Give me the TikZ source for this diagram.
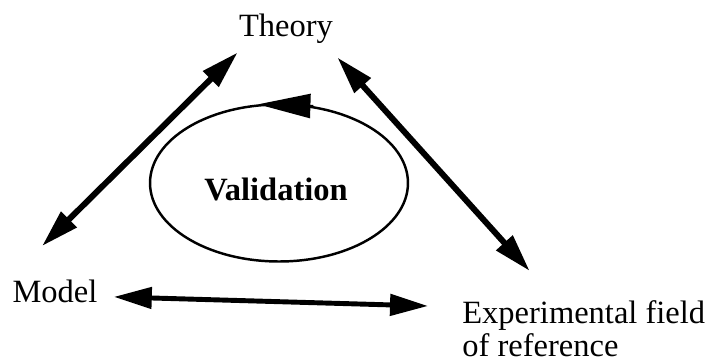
\documentclass[tikz,border=0pt]{standalone}
\usepackage{fontspec}
\setmainfont{Liberation Serif}
\usetikzlibrary{arrows.meta,shapes.geometric}

\begin{document}
\begin{tikzpicture}[x=0.02cm, y=-0.02cm,
    lbl/.style={font=\fontsize{18.5}{19}\selectfont, inner sep=0pt},
    dbl/.style={line width=3.4pt, {Triangle[length=0.76cm,width=0.42cm]}-{Triangle[length=0.76cm,width=0.42cm]}},
    loopline/.style={draw, ellipse, line width=1.4pt, minimum width=5.16cm, minimum height=3.14cm}]
    \useasboundingbox (0, 0) rectangle (715, 362);
    \node[lbl, anchor=base] (theory) at (286, 36) {Theory};
    \node[lbl, anchor=base] (model) at (55, 302) {Model};
    \node[lbl, anchor=north west, align=left] (field) at (462, 300) {Experimental field\\of reference};
    \node[loopline] (loop) at (279, 183) {};
    \node[lbl, anchor=base, font=\fontsize{18.5}{19}\selectfont\bfseries] (valid) at (276, 200) {Validation};
    \draw[dbl] ([shift={(-1, 9)}]theory.south west) -- ([shift={(-13, -33)}]model.north);
    \draw[dbl] ([shift={(4, 14)}]theory.south east) -- ([shift={(-54, -29)}]field.north);
    \draw[dbl, line width=2.8pt] ([shift={(16, 6)}]model.east) -- ([shift={(-34, 6)}]field.north west);
    \draw[line width=1.4pt, -{Triangle[length=1.05cm,width=0.48cm]}] (loop.66) -- (loop.105);
\end{tikzpicture}
\end{document}
